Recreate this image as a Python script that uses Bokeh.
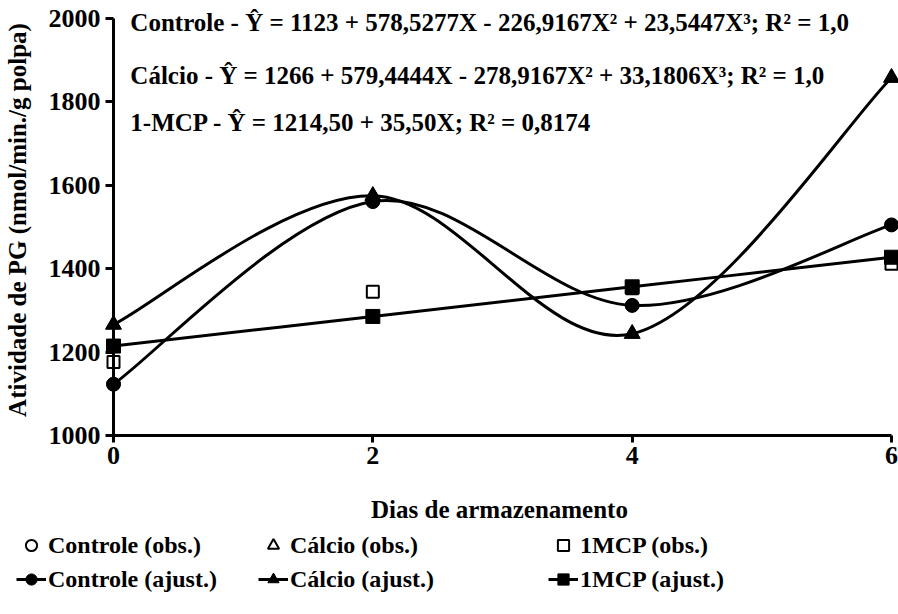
import numpy as np
from bokeh.plotting import figure
from bokeh.layouts import column
from bokeh.models import Legend, LegendItem, Label, Range1d, Arrow, FixedTicker
from bokeh.embed import file_html
from bokeh.resources import INLINE

# ---- data ----
dias = [0, 2, 4, 6]
controle_obs = [1123, 1561, 1312, 1505]
calcio_obs = [1266, 1575, 1244, 1858]
mcp_obs = [1176, 1345, 1353, 1412]
controle_aj = [1123, 1561, 1312, 1505]
calcio_aj = [1266, 1575, 1244, 1858]
mcp_aj = [1214.5, 1285.5, 1356.5, 1427.5]

x_ticks = [0, 2, 4, 6]
y_ticks = [1000, 1200, 1400, 1600, 1800, 2000]

eq_texts = [
    "Controle - Ŷ = 1123 + 578,5277X - 226,9167X² + 23,5447X³; R² = 1,0",
    "Cálcio - Ŷ = 1266 + 579,4444X - 278,9167X² + 33,1806X³; R² = 1,0",
    "1-MCP - Ŷ = 1214,50 + 35,50X; R² = 0,8174",
]
eq_y = [1990, 1863, 1751]
eq_x = 0.13

legend_labels = ["Controle (obs.)", "Cálcio (obs.)", "1MCP (obs.)",
                 "Controle (ajust.)", "Cálcio (ajust.)", "1MCP (ajust.)"]

FONT = "Liberation Serif"
FS_LEG = "24px"
FS_AX = "25px"
FS_EQ = "25px"
FS_TICK = "26px"

# ---- layout ----
W, H = 898, 614
X0_PX = 110          # page x of day 0
X6_PX = 888          # page x of day 6
Y2000_PX = 18
Y1000_PX = 435
PX_PER_DAY = (X6_PX - X0_PX) / 6.0
PX_PER_UNIT = (Y1000_PX - Y2000_PX) / 1000.0
PAD_L = 16
PAD_R = 10
PAD_T = 14
FRAME_W = (X6_PX - X0_PX) + PAD_L + PAD_R
FRAME_H = (Y1000_PX - Y2000_PX) + PAD_T
BOTTOM = 96
MAIN_H = (Y2000_PX - PAD_T) + FRAME_H + BOTTOM
LEG_H = H - MAIN_H

p = figure(
    frame_width=FRAME_W, frame_height=FRAME_H,
    min_border_left=X0_PX - PAD_L, min_border_right=0,
    min_border_top=Y2000_PX - PAD_T, min_border_bottom=BOTTOM,
    x_range=Range1d(-PAD_L / PX_PER_DAY, 6 + PAD_R / PX_PER_DAY),
    y_range=Range1d(1000, 2000 + PAD_T / PX_PER_UNIT),
    output_backend="svg", toolbar_location=None,
)
p.outline_line_color = None
p.grid.visible = False
p.background_fill_color = "white"
p.border_fill_color = "white"


def bezier_controls(xs, ys, t=1.0 / 6.0):
    x = np.asarray(xs, float)
    y = np.asarray(ys, float)
    xp = np.r_[x[0], x, x[-1]]
    yp = np.r_[y[0], y, y[-1]]
    return dict(
        x0=xp[1:-2], y0=yp[1:-2], x1=xp[2:-1], y1=yp[2:-1],
        cx0=xp[1:-2] + (xp[2:-1] - xp[:-3]) * t,
        cy0=yp[1:-2] + (yp[2:-1] - yp[:-3]) * t,
        cx1=xp[2:-1] - (xp[3:] - xp[1:-2]) * t,
        cy1=yp[2:-1] - (yp[3:] - yp[1:-2]) * t,
    )


OBS_STYLE = dict(fill_color="white", line_color="black", line_width=2)

# observed (open) markers
p.scatter(dias, controle_obs, marker="circle", size=12, **OBS_STYLE)
p.scatter(dias, calcio_obs, marker="triangle", size=13, **OBS_STYLE)
p.scatter(dias, mcp_obs, marker="square", size=12, **OBS_STYLE)

# fitted smoothed lines
p.bezier(**bezier_controls(dias, controle_aj), line_color="black", line_width=3)
p.bezier(**bezier_controls(dias, calcio_aj), line_color="black", line_width=3)
p.bezier(**bezier_controls(dias, mcp_aj), line_color="black", line_width=3)

# fitted markers
p.scatter(dias, calcio_aj, marker="triangle", size=16, color="black")
p.scatter(dias, mcp_aj, marker="square", size=14, color="black")
p.scatter(dias, controle_aj, marker="circle", size=14, color="black")

# axes
xa = p.xaxis[0]
xa.ticker = FixedTicker(ticks=x_ticks)
xa.bounds = (x_ticks[0], x_ticks[-1])
xa.axis_line_width = 3
xa.major_tick_line_width = 3
xa.major_tick_in = 0
xa.major_tick_out = 7
xa.minor_tick_line_color = None
xa.major_label_standoff = 4
xa.axis_label = "Dias de armazenamento"
xa.axis_label_standoff = 29

ya = p.yaxis[0]
ya.ticker = FixedTicker(ticks=y_ticks)
ya.axis_line_color = None
ya.major_tick_line_width = 3
ya.major_tick_in = PAD_L
ya.major_tick_out = -(PAD_L - 8)
ya.minor_tick_line_color = None
ya.major_label_standoff = -3
ya.axis_label = "Atividade de PG (nmol/min./g polpa)"
ya.axis_label_standoff = 15

for ax in (xa, ya):
    ax.major_label_text_font = FONT
    ax.major_label_text_font_style = "bold"
    ax.major_label_text_font_size = FS_TICK
    ax.major_label_text_color = "black"
    ax.axis_label_text_font = FONT
    ax.axis_label_text_font_style = "bold"
    ax.axis_label_text_font_size = FS_AX
    ax.axis_label_text_color = "black"
    ax.major_tick_line_color = "black"

# vertical axis line at day 0
p.add_layout(Arrow(end=None, x_start=x_ticks[0], y_start=y_ticks[0],
                   x_end=x_ticks[0], y_end=y_ticks[-1],
                   line_color="black", line_width=3))

# equations
for txt, yy in zip(eq_texts, eq_y):
    p.add_layout(Label(x=eq_x, y=yy, text=txt, text_font=FONT, text_font_style="bold",
                       text_font_size=FS_EQ, text_baseline="middle", text_color="black"))

# ---- legend strip (separate figure under the chart) ----
q = figure(
    frame_width=W, frame_height=LEG_H,
    min_border_left=0, min_border_right=0, min_border_top=0, min_border_bottom=0,
    x_range=Range1d(-100, -99), y_range=Range1d(0, 1),
    x_axis_type=None, y_axis_type=None,
    output_backend="svg", toolbar_location=None,
)
q.outline_line_color = None
q.background_fill_color = "white"
q.border_fill_color = "white"

lc_obs = q.scatter(dias, controle_obs, marker="circle", size=12, **OBS_STYLE)
lca_obs = q.scatter(dias, calcio_obs, marker="triangle", size=13, **OBS_STYLE)
lm_obs = q.scatter(dias, mcp_obs, marker="square", size=12, **OBS_STYLE)
lc_line = q.line(dias, controle_aj, line_color="black", line_width=3)
lca_line = q.line(dias, calcio_aj, line_color="black", line_width=3)
lm_line = q.line(dias, mcp_aj, line_color="black", line_width=3)
lc_pt = q.scatter(dias, controle_aj, marker="circle", size=14, color="black")
lca_pt = q.scatter(dias, calcio_aj, marker="triangle", size=16, color="black")
lm_pt = q.scatter(dias, mcp_aj, marker="square", size=14, color="black")

groups = [
    (legend_labels[0], [lc_obs], legend_labels[3], [lc_line, lc_pt], 16),
    (legend_labels[1], [lca_obs], legend_labels[4], [lca_line, lca_pt], 258),
    (legend_labels[2], [lm_obs], legend_labels[5], [lm_line, lm_pt], 548),
]
ROW2_CENTER = 579
for lab_o, rend_o, lab_a, rend_a, x_left in groups:
    leg = Legend(
        items=[LegendItem(label=lab_o, renderers=rend_o),
               LegendItem(label=lab_a, renderers=rend_a)],
        location=(x_left, H - (ROW2_CENTER + 14)),
        orientation="vertical", padding=0, margin=0, spacing=6,
        border_line_color=None, background_fill_alpha=0,
        glyph_width=30, glyph_height=28, label_height=28, label_standoff=2,
        label_text_font=FONT, label_text_font_style="bold",
        label_text_font_size=FS_LEG, label_text_color="black",
    )
    q.add_layout(leg)

layout = column(p, q, spacing=0)
open("out.html", "w").write(file_html(layout, INLINE))
